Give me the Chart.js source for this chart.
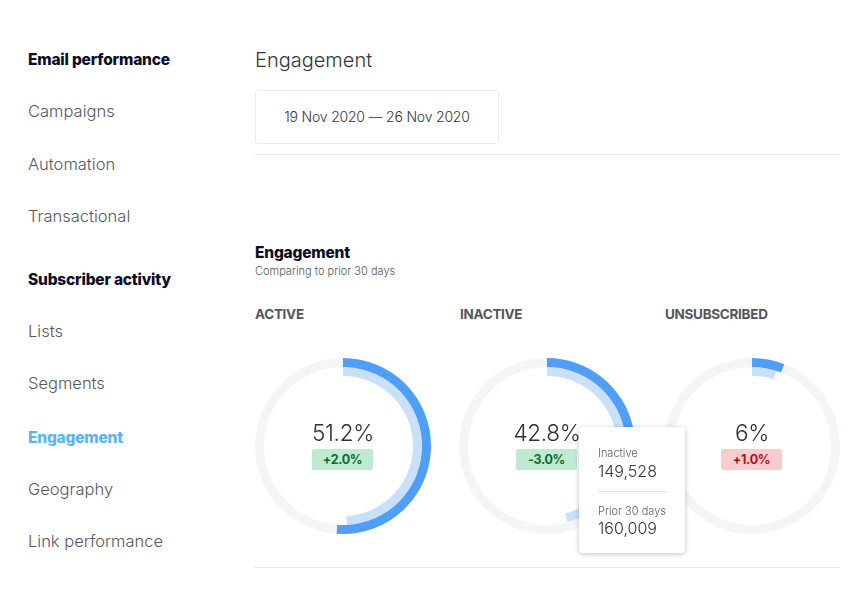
<!DOCTYPE html>
<html>
<head>
<meta charset="utf-8">
<script src="https://cdn.jsdelivr.net/npm/chart.js@4/dist/chart.umd.min.js"></script>
<style>
html, body { margin: 0; padding: 0; background: #fff; }
body { width: 864px; height: 606px; position: relative; overflow: hidden; font-family: Inter, sans-serif; color: #3d3f4f; }
.t { position: absolute; white-space: nowrap; line-height: 1; }
.nav { left: 28px; font-size: 16.5px; font-weight: 300; color: #55585f; }
.head { left: 28px; font-size: 15.5px; font-weight: 800; color: #0d0d26; letter-spacing: -0.2px; }
.rule { position: absolute; left: 254px; width: 586px; height: 1px; background: #ececee; }
.label { font-size: 13.5px; font-weight: 700; color: #54565e; letter-spacing: -0.3px; }
.pct { font-size: 22.5px; font-weight: 300; color: #2c2e3f; text-align: center; width: 80px; letter-spacing: -0.3px; }
.badge { position: absolute; width: 61px; height: 21px; top: 449px; border-radius: 2px; font-size: 12.5px; font-weight: 700; line-height: 21px; text-align: center; letter-spacing: -0.3px; }
.up { background: #bfe9d0; color: #0b6b2a; }
.down { background: #f9cccc; color: #b40d16; }
canvas { position: absolute; top: 358px; }
#box { position: absolute; left: 255px; top: 90px; width: 242px; height: 52px; border: 1px solid #ececee; border-radius: 3px; font-size: 14px; font-weight: 300; color: #33353f; text-align: center; line-height: 52px; letter-spacing: -0.2px; }
#tip { position: absolute; left: 579px; top: 427px; width: 106px; height: 126px; background: #fff; border-radius: 4px; box-shadow: 0 1px 5px rgba(0,0,0,0.25); }
#tip .t { left: 19px; }
#tip .s { font-size: 11px; font-weight: 300; color: #5c5e66; }
#tip .v { font-size: 16px; font-weight: 300; color: #33353f; }
#tip hr { position: absolute; left: 19px; top: 64px; width: 69px; height: 1px; margin: 0; border: 0; background: #e4e5e8; }
</style>
</head>
<body>
<div class="t head" style="top:52px">Email performance</div>
<div class="t nav" style="top:103px">Campaigns</div>
<div class="t nav" style="top:156px">Automation</div>
<div class="t nav" style="top:208px">Transactional</div>
<div class="t head" style="top:272px">Subscriber activity</div>
<div class="t nav" style="top:323px">Lists</div>
<div class="t nav" style="top:375px">Segments</div>
<div class="t head" style="top:430px;color:#58b4f8">Engagement</div>
<div class="t nav" style="top:481px">Geography</div>
<div class="t nav" style="top:533px">Link performance</div>

<div class="t" style="left:255px;top:50px;font-size:20px;font-weight:300;color:#33353f">Engagement</div>
<div id="box">19 Nov 2020 — 26 Nov 2020</div>
<div class="rule" style="top:154px"></div>
<div class="t head" style="left:255px;top:245px">Engagement</div>
<div class="t" style="left:255px;top:266px;font-size:11px;font-weight:300;color:#55585f">Comparing to prior 30 days</div>
<div class="rule" style="top:567px"></div>

<div id="charts"></div>

<div id="tip">
  <div class="t s" style="top:21px">Inactive</div>
  <div class="t v" style="top:36px">149,528</div>
  <hr>
  <div class="t s" style="top:79px">Prior 30 days</div>
  <div class="t v" style="top:93px">160,009</div>
</div>

<script>
var categories = ['ACTIVE', 'INACTIVE', 'UNSUBSCRIBED'];
var currentValues = [51.2, 42.8, 6];
var currentRest = [48.8, 57.2, 94];
var priorValues = [49.2, 45.8, 5];
var priorRest = [50.8, 54.2, 95];
var centerLabels = ['51.2%', '42.8%', '6%'];
var changeLabels = ['+2.0%', '-3.0%', '+1.0%'];
var changeClasses = ['up', 'up', 'down'];
var chartLefts = [255, 459, 664];

var wrap = document.getElementById('charts');

categories.forEach(function(name, i) {
    var left = chartLefts[i];

    var label = document.createElement('div');
    label.className = 't label';
    label.style.left = (left + (i ? 1 : 0)) + 'px';
    label.style.top = '308px';
    label.textContent = name;
    wrap.appendChild(label);

    var canvas = document.createElement('canvas');
    canvas.width = 176;
    canvas.height = 176;
    canvas.style.left = left + 'px';
    canvas.style.width = '176px';
    canvas.style.height = '176px';
    wrap.appendChild(canvas);

    var pct = document.createElement('div');
    pct.className = 't pct';
    pct.style.left = (left + 48) + 'px';
    pct.style.top = '422px';
    pct.textContent = centerLabels[i];
    wrap.appendChild(pct);

    var badge = document.createElement('div');
    badge.className = 'badge ' + changeClasses[i];
    badge.style.left = (left + 57) + 'px';
    badge.textContent = changeLabels[i];
    wrap.appendChild(badge);

    new Chart(canvas.getContext('2d'), {
        type: 'doughnut',
        data: {
            labels: [name, ''],
            datasets: [{
                data: [currentValues[i], currentRest[i]],
                backgroundColor: ['#4f9ef8', '#f3f5f7'],
                borderWidth: 0
            }, {
                data: [priorValues[i], priorRest[i]],
                backgroundColor: ['#c9e0fb', 'rgba(0,0,0,0)'],
                borderWidth: 0
            }]
        },
        options: {
            responsive: false,
            animation: false,
            cutout: 70,
            radius: 88,
            plugins: {
                legend: { display: false },
                tooltip: { enabled: false }
            }
        }
    });
});
</script>
</body>
</html>
